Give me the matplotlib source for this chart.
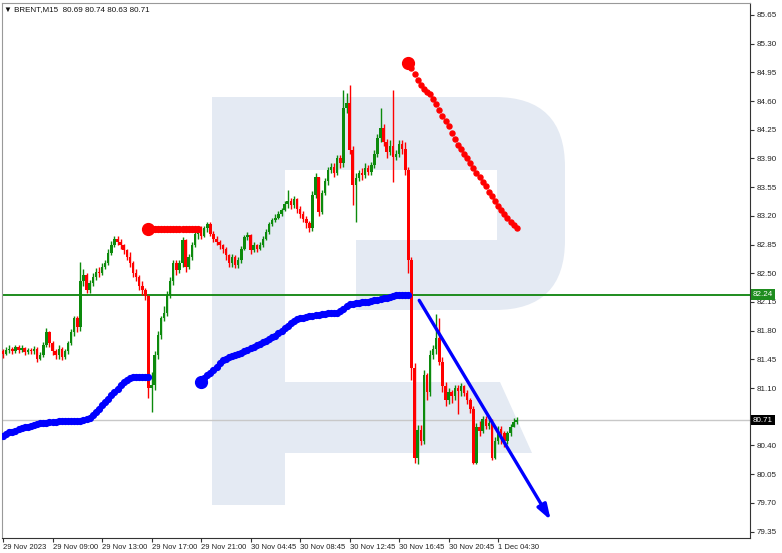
import matplotlib
matplotlib.use("Agg")
import matplotlib.pyplot as plt
from matplotlib.patches import Rectangle, FancyBboxPatch, Polygon

plt.rcParams["font.family"] = ["Liberation Sans", "DejaVu Sans"]

# ---- data (M15 bars, index 0 = first bar) ----
closes = [
    81.52, 81.56, 81.58, 81.55, 81.60, 81.57, 81.59, 81.54, 81.56, 81.55,
    81.58, 81.46, 81.50, 81.62, 81.78, 81.65, 81.55, 81.50, 81.58, 81.48,
    81.55, 81.65, 81.78, 81.95, 81.85, 82.40, 82.48, 82.30, 82.38, 82.45,
    82.52, 82.50, 82.58, 82.62, 82.75, 82.85, 82.92, 82.88, 82.84, 82.78,
    82.70, 82.62, 82.50, 82.45, 82.35, 82.30, 82.22, 81.10, 81.14, 81.50,
    81.75, 81.95, 82.02, 82.24, 82.40, 82.62, 82.54, 82.62, 82.90, 82.58,
    82.70, 82.85, 82.98, 83.02, 82.96, 83.05, 83.10, 82.98, 82.92, 82.88,
    82.84, 82.80, 82.72, 82.62, 82.70, 82.60, 82.66, 82.80, 82.94, 82.97,
    82.78, 82.84, 82.80, 82.85, 82.92, 83.00, 83.10, 83.15, 83.18, 83.22,
    83.27, 83.35, 83.38, 83.33, 83.40, 83.28, 83.22, 83.16, 83.11, 83.05,
    83.45, 83.67, 83.25, 83.48, 83.62, 83.76, 83.80, 83.72, 83.90, 83.84,
    84.52, 84.58, 84.00, 83.58, 83.66, 83.72, 83.70, 83.78, 83.74, 83.82,
    83.95, 84.15, 84.27, 84.10, 83.98, 84.05, 83.92, 83.95, 84.08, 84.02,
    83.76, 82.66, 81.35, 80.25, 80.59, 80.45, 81.26, 81.05, 81.50, 81.58,
    81.71, 81.42, 81.13, 80.95, 81.05, 81.00, 81.10, 81.06, 81.12, 81.04,
    80.95, 80.85, 80.19, 80.63, 80.58, 80.72, 80.64, 80.68, 80.25, 80.45,
    80.60, 80.55, 80.45, 80.55, 80.62, 80.69, 80.71,
]
highs = [
    81.58, 81.60, 81.62, 81.60, 81.63, 81.62, 81.62, 81.60, 81.59, 81.59,
    81.61, 81.60, 81.54, 81.66, 81.83, 81.80, 81.68, 81.58, 81.62, 81.60,
    81.58, 81.68, 81.82, 81.98, 81.98, 82.64, 82.55, 82.50, 82.42, 82.50,
    82.56, 82.58, 82.62, 82.66, 82.80, 82.89, 82.95, 82.96, 82.92, 82.86,
    82.80, 82.76, 82.65, 82.55, 82.48, 82.40, 82.32, 82.24, 81.30, 81.55,
    81.80, 81.98, 82.10, 82.28, 82.45, 82.66, 82.66, 82.66, 82.94, 82.92,
    82.74, 82.88, 83.02, 83.06, 83.08, 83.08, 83.13, 83.12, 83.02, 82.95,
    82.90, 82.86, 82.82, 82.74, 82.74, 82.72, 82.70, 82.83, 82.97, 83.00,
    82.98, 82.88, 82.86, 82.88, 82.95, 83.04, 83.13, 83.18, 83.22, 83.26,
    83.30, 83.38, 83.52, 83.42, 83.44, 83.42, 83.32, 83.26, 83.20, 83.14,
    83.50, 83.72, 83.68, 83.52, 83.66, 83.80, 83.85, 83.84, 83.94, 83.94,
    84.74, 84.70, 84.80, 84.05, 83.72, 83.76, 83.78, 83.84, 83.82, 83.86,
    84.00, 84.20, 84.52, 84.32, 84.14, 84.12, 84.74, 84.00, 84.12, 84.12,
    84.10, 83.80, 82.70, 81.40, 80.65, 80.65, 81.32, 81.28, 81.56, 81.62,
    82.00, 81.95, 81.48, 81.18, 81.10, 81.08, 81.14, 81.14, 81.16, 81.14,
    81.08, 80.98, 80.88, 80.68, 80.70, 80.76, 80.76, 80.72, 80.72, 80.50,
    80.64, 80.64, 80.58, 80.58, 80.66, 80.74, 80.75,
]
lows = [
    81.47, 81.50, 81.53, 81.51, 81.53, 81.53, 81.54, 81.50, 81.52, 81.51,
    81.52, 81.42, 81.44, 81.48, 81.60, 81.60, 81.50, 81.45, 81.46, 81.44,
    81.45, 81.52, 81.62, 81.74, 81.78, 81.80, 82.35, 82.26, 82.26, 82.34,
    82.42, 82.45, 82.48, 82.55, 82.60, 82.72, 82.82, 82.85, 82.80, 82.74,
    82.66, 82.58, 82.45, 82.40, 82.30, 82.24, 82.18, 80.98, 80.81, 81.08,
    81.45, 81.70, 81.92, 81.98, 82.20, 82.36, 82.48, 82.50, 82.58, 82.52,
    82.55, 82.66, 82.82, 82.92, 82.92, 82.94, 83.00, 82.96, 82.88, 82.84,
    82.80, 82.75, 82.66, 82.58, 82.58, 82.56, 82.56, 82.62, 82.78, 82.90,
    82.74, 82.76, 82.76, 82.78, 82.82, 82.90, 82.98, 83.08, 83.12, 83.16,
    83.20, 83.26, 83.30, 83.28, 83.30, 83.24, 83.18, 83.12, 83.05, 83.00,
    83.02, 83.42, 83.20, 83.22, 83.45, 83.58, 83.72, 83.68, 83.70, 83.78,
    83.80, 84.45, 83.95, 83.33, 83.12, 83.62, 83.64, 83.66, 83.70, 83.70,
    83.78, 83.92, 84.10, 84.05, 83.90, 83.94, 83.61, 83.88, 83.92, 83.96,
    83.70, 82.50, 81.20, 80.19, 80.18, 80.40, 80.42, 80.95, 81.00, 81.45,
    81.52, 81.38, 81.05, 80.88, 80.90, 80.92, 80.96, 80.78, 81.00, 81.00,
    80.90, 80.80, 80.18, 80.17, 80.52, 80.55, 80.60, 80.60, 80.22, 80.24,
    80.42, 80.42, 80.38, 80.42, 80.52, 80.63, 80.66,
]
first_open = 81.55
opens = [first_open] + closes[:-1]

# blue dotted indicator, two pieces
blue1_start = 0
blue1 = [
    80.52, 80.54, 80.56, 80.57, 80.58, 80.60, 80.61, 80.62, 80.63, 80.64,
    80.65, 80.66, 80.67, 80.68, 80.68, 80.69, 80.69, 80.69, 80.70, 80.70,
    80.70, 80.70, 80.70, 80.70, 80.70, 80.70, 80.71, 80.72, 80.74, 80.77,
    80.81, 80.85, 80.89, 80.93, 80.97, 81.01, 81.05, 81.09, 81.14, 81.17,
    81.20, 81.22, 81.23, 81.24, 81.24, 81.24, 81.24, 81.24,
]
blue2_start = 64
blue2 = [
    81.17, 81.22, 81.26, 81.29, 81.32, 81.36, 81.40, 81.44, 81.46, 81.48,
    81.49, 81.50, 81.51, 81.53, 81.55, 81.57, 81.59, 81.60, 81.62, 81.64,
    81.66, 81.68, 81.70, 81.72, 81.74, 81.77, 81.80, 81.83, 81.86, 81.89,
    81.92, 81.94, 81.95, 81.96, 81.97, 81.98, 81.98, 81.99, 81.99, 82.00,
    82.00, 82.01, 82.01, 82.02, 82.02, 82.04, 82.07, 82.10, 82.12, 82.13,
    82.14, 82.14, 82.15, 82.15, 82.15, 82.16, 82.17, 82.18, 82.19, 82.20,
    82.20, 82.21, 82.22, 82.23, 82.23, 82.24, 82.24, 82.24,
]

# red dotted indicator, two pieces
red1_start = 47
red1 = [83.04] * 17
red2_start = 131
red2 = [
    85.07, 85.00, 84.93, 84.86, 84.80, 84.75, 84.71, 84.69, 84.63, 84.56,
    84.49, 84.42, 84.36, 84.29, 84.21, 84.14, 84.07, 84.01, 83.95, 83.91,
    83.85, 83.78, 83.72, 83.67, 83.61, 83.56, 83.49, 83.44, 83.38, 83.32,
    83.27, 83.22, 83.17, 83.13, 83.09, 83.05,
]

level_line = 82.24
last_price = 80.71
arrow_from = (134.5, 82.17)
arrow_to = (177.0, 79.49)

tick_bars = [0, 16, 32, 48, 64, 80, 96, 112, 128, 144, 160]
tick_labels = ["29 Nov 2023", "29 Nov 09:00", "29 Nov 13:00", "29 Nov 17:00",
               "29 Nov 21:00", "30 Nov 04:45", "30 Nov 08:45", "30 Nov 12:45",
               "30 Nov 16:45", "30 Nov 20:45", "1 Dec 04:30"]
price_ticks = [79.35, 79.70, 80.05, 80.40, 80.75, 81.10, 81.45, 81.80, 82.15,
               82.50, 82.85, 83.20, 83.55, 83.90, 84.25, 84.60, 84.95, 85.30, 85.65]

W, H = 782, 553
fig = plt.figure(figsize=(W / 100, H / 100), dpi=100)

# watermark logo, drawn in pixel space behind the chart
bg = fig.add_axes([0, 0, 1, 1], zorder=0)
bg.set_xlim(0, W)
bg.set_ylim(H, 0)
bg.axis("off")
wm = "#e4eaf3"
bg.add_patch(FancyBboxPatch((212, 97), 353, 213, boxstyle="round,pad=0,rounding_size=70",
                            fc=wm, ec="none"))
bg.add_patch(Rectangle((212, 97), 73, 408, fc=wm, ec="none"))
bg.add_patch(Rectangle((285, 170), 212, 70, fc="white", ec="none"))
bg.add_patch(Rectangle((285, 240), 71, 70.5, fc="white", ec="none"))
bg.add_patch(Polygon([(285, 382), (500, 382), (532, 453), (285, 453)], fc=wm, ec="none"))

ax = fig.add_axes([1.5 / W, 1 - 538 / H, (750 - 1.5) / W, 535 / H], zorder=1)
ax.set_facecolor("none")

up_col, dn_col = "#0c8a0c", "#ff0000"
for i, (o, h, l, c) in enumerate(zip(opens, highs, lows, closes)):
    col = up_col if c >= o else dn_col
    ax.vlines(i, l, h, color=col, lw=1.0, zorder=3)
    ax.bar(i, max(abs(c - o), 0.01), bottom=min(o, c), width=0.8, color=col,
           linewidth=0, zorder=3)

ax.axhline(level_line, color="#1e8c1e", lw=1.4, zorder=2)
ax.axhline(last_price, color="#c8c8c8", lw=1.0, zorder=1)

b1x = list(range(blue1_start, blue1_start + len(blue1)))
b2x = list(range(blue2_start, blue2_start + len(blue2)))
ax.plot(b1x, blue1, color="#0000ff", lw=2.6, marker="o", ms=4.2, zorder=4)
ax.plot(b2x, blue2, color="#0000ff", lw=2.6, marker="o", ms=4.2, zorder=4)
ax.plot(b2x[0], blue2[0], "o", color="#0000ff", ms=8.5, zorder=5)

r1x = list(range(red1_start, red1_start + len(red1)))
r2x = list(range(red2_start, red2_start + len(red2)))
ax.plot(r1x, red1, color="#ff0000", lw=2.6, marker="o", ms=4.2, zorder=4)
ax.plot(r1x[0], red1[0], "o", color="#ff0000", ms=8.5, zorder=5)
ax.plot(r2x, red2, "o", color="#ff0000", ms=3.6, zorder=4)
ax.plot(r2x[0], red2[0], "o", color="#ff0000", ms=8.5, zorder=5)

ax.annotate("", xy=arrow_to, xytext=arrow_from, zorder=6,
            arrowprops=dict(arrowstyle="-|>,head_length=0.9,head_width=0.3",
                            color="#0000ff", lw=2.4, shrinkA=0, shrinkB=0))

ax.set_xlim(-0.5, 241.4)
ax.set_ylim(79.272, 85.796)

ax.yaxis.tick_right()
ax.set_yticks(price_ticks)
# 80.75 sits under the last-price box in the reference
ax.set_yticklabels(["" if p == 80.75 else f"{p:.2f}" for p in price_ticks])
ax.set_xticks(tick_bars)
ax.set_xticklabels(tick_labels, ha="left")
ax.tick_params(axis="both", direction="out", length=3, width=0.8, color="#333333",
               labelsize=5.8, labelcolor="#222222", pad=2)
ax.tick_params(axis="x", pad=1.5, labelsize=5.5)
for side in ["left", "top"]:
    ax.spines[side].set_color("#999999")
for side in ["right", "bottom"]:
    ax.spines[side].set_color("#333333")

ax.text(1.004, level_line, "82.24", transform=ax.get_yaxis_transform(), fontsize=5.8,
        color="white", va="center", ha="left", zorder=10, clip_on=False,
        bbox=dict(boxstyle="square,pad=0.2", fc="#1e8c1e", ec="none"))
ax.text(1.004, last_price, "80.71", transform=ax.get_yaxis_transform(), fontsize=5.8,
        color="white", va="center", ha="left", zorder=10, clip_on=False,
        bbox=dict(boxstyle="square,pad=0.2", fc="black", ec="none"))

ax.text(0.004, 0.994, "\u25bc BRENT,M15  80.69 80.74 80.63 80.71", transform=ax.transAxes,
        fontsize=5.8, va="top", ha="left", color="#111111")

fig.savefig("out.png", dpi=100, facecolor="white")
